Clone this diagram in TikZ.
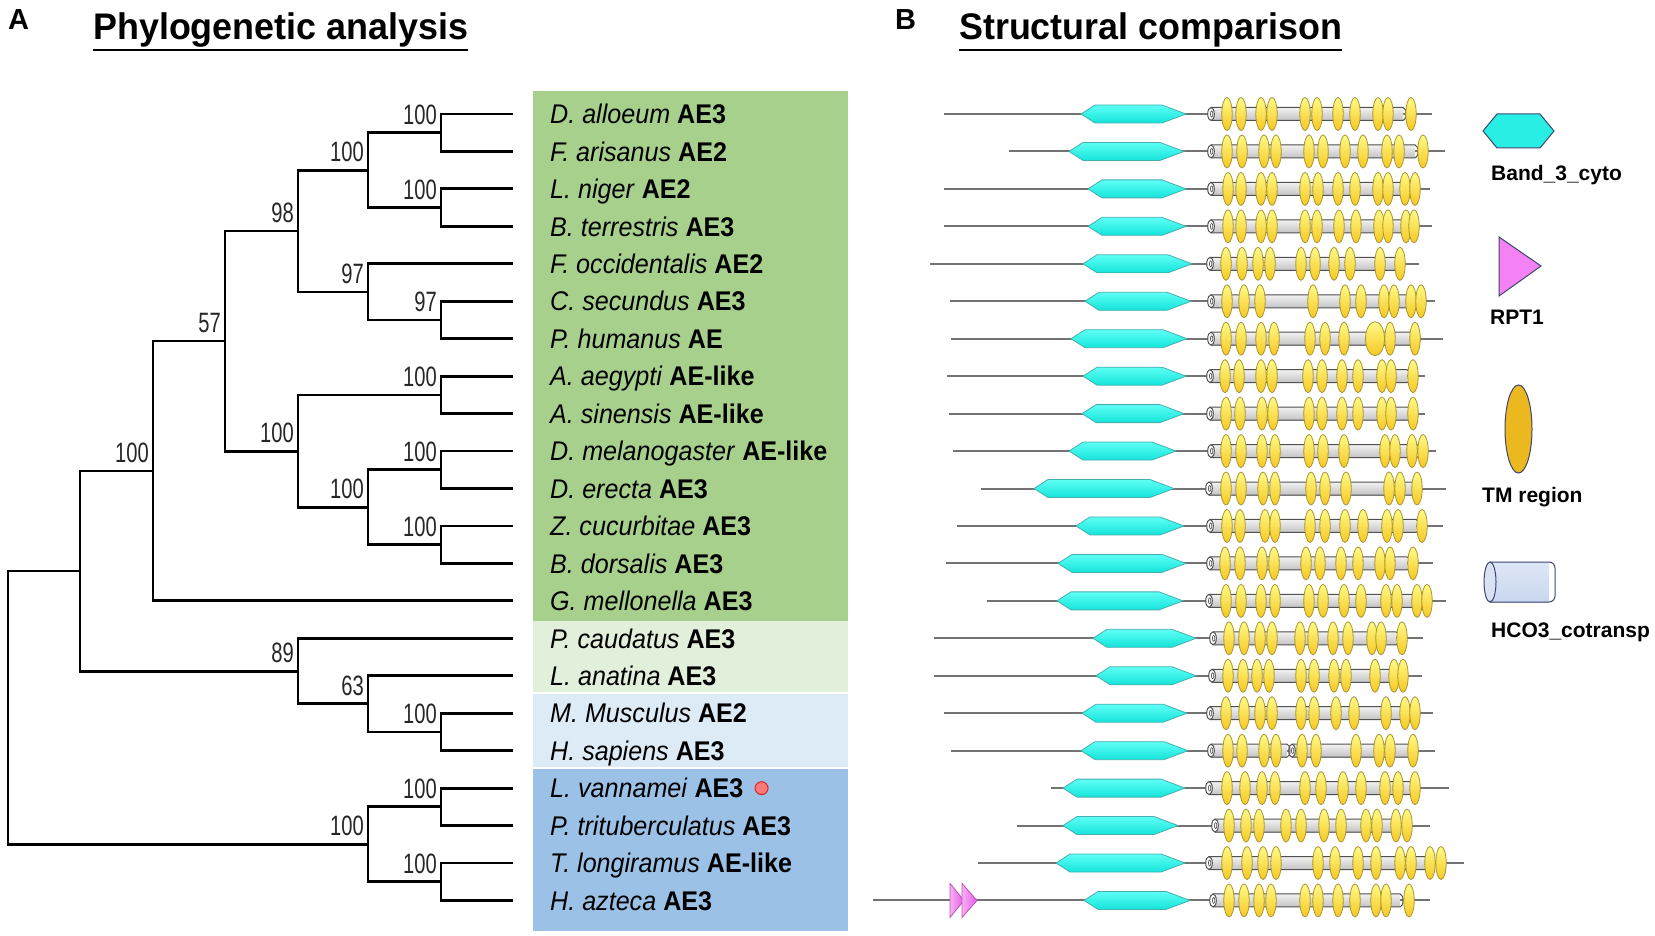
\documentclass[tikz,border=0pt]{standalone}
\usepackage{fontspec}
\setmainfont{Liberation Sans}
\newfontfamily\leaffont[FakeStretch=0.93]{Liberation Sans}
\newfontfamily\bootfont[FakeStretch=0.72]{Liberation Sans}
\newfontfamily\titlefont[FakeStretch=0.97]{Liberation Sans}
\usepackage{tikz}
\usetikzlibrary{calc}
\usetikzlibrary{positioning}

\definecolor{greenbox}{RGB}{168,208,141}
\definecolor{lightgreen}{RGB}{226,239,218}
\definecolor{lightblue}{RGB}{221,235,247}
\definecolor{bluebox}{RGB}{155,194,230}
\definecolor{linegrey}{RGB}{115,115,115}
\definecolor{hextop}{RGB}{95,255,245}
\definecolor{hexbot}{RGB}{20,228,218}
\definecolor{hexline}{RGB}{70,175,175}
\definecolor{tmtop}{RGB}{255,250,135}
\definecolor{tmbot}{RGB}{246,200,35}
\definecolor{tmline}{RGB}{170,150,50}
\definecolor{cyltop}{RGB}{242,242,242}
\definecolor{cylbot}{RGB}{195,195,195}
\definecolor{cylline}{RGB}{80,80,80}
\definecolor{rpttop}{RGB}{248,175,245}
\definecolor{rptbot}{RGB}{228,90,228}
\definecolor{rptline}{RGB}{185,85,185}
\definecolor{legcyan}{RGB}{40,238,228}
\definecolor{legpink}{RGB}{245,130,245}
\definecolor{leggold}{RGB}{236,184,32}
\definecolor{legcyl}{RGB}{200,214,238}
\definecolor{legline}{RGB}{60,70,110}
\definecolor{dotfill}{RGB}{250,120,120}
\definecolor{dotline}{RGB}{220,40,40}

\begin{document}
\begin{tikzpicture}[x=1pt, y=-1pt, line join=miter,
    branch/.style={line width=2.8, black},
    boot/.style={anchor=south east, inner sep=0, xshift=-4pt, yshift=8pt,
      font=\bootfont\fontsize{28}{28}\selectfont, text=black!85},
    leaf/.style={anchor=base west, inner sep=0, font=\leaffont\fontsize{27}{30}\selectfont},
    title/.style={anchor=base west, inner sep=0, font=\titlefont\bfseries\fontsize{37}{40}\selectfont},
    panel/.style={anchor=base west, inner sep=0, font=\bfseries\fontsize{29}{32}\selectfont},
    legtext/.style={anchor=base west, inner sep=0, font=\bfseries\fontsize{21}{24}\selectfont},
    backbone/.style={line width=2, draw=linegrey},
    band3/.style={draw=hexline, line width=0.8, top color=hextop, bottom color=hexbot},
    tm/.style={draw=tmline, line width=0.8, top color=tmtop, bottom color=tmbot},
    rpt/.style={draw=rptline, line width=0.8, left color=rpttop, right color=rptbot},
    reddot/.style={circle, minimum size=13pt, inner sep=0, fill=dotfill, draw=dotline, line width=1},
    hcocyl/.pic={
      \fill[top color=cyltop, bottom color=cylbot] (0,-6.5) rectangle (#1,6.5);
      \draw[cylline, line width=1] (0,-6.5) -- (#1,-6.5) arc (-90:90:3 and 6.5) -- (0,6.5);
      \draw[cylline, line width=1, fill=white] (0,0) ellipse (3.3 and 6.5);
      \draw[cylline, line width=0.6] (0.6,0) ellipse (1.2 and 3);
    }]
\useasboundingbox (0,0) rectangle (1655,936);

\node[panel] (pa) at (8,30) {A};
\node[panel] (pb) at (895,30) {B};
\node[title] (ta) at (93,40) {Phylogenetic analysis};
\node[title] (tb) at (959,40) {Structural comparison};
\draw[line width=2.5] ([yshift=-2pt]ta.south west) -- ([yshift=-2pt]ta.south east);
\draw[line width=2.5] ([yshift=-2pt]tb.south west) -- ([yshift=-2pt]tb.south east);

\fill[greenbox] (533,91) rectangle (848,621);
\fill[lightgreen] (533,621) rectangle (848,692);
\fill[lightblue] (533,694) rectangle (848,767);
\fill[bluebox] (533,769) rectangle (848,931);

\foreach \i in {1,...,22}
  \coordinate (l\i) at (513,{114+(\i-1)*37.45});
\coordinate (n12) at (441,132.7);
\coordinate (n34) at (441,207.6);
\coordinate (n1234) at (368,170.2);
\coordinate (n67) at (441,320.0);
\coordinate (n567) at (368,291.9);
\coordinate (n17) at (298,231.0);
\coordinate (n89) at (441,394.9);
\coordinate (n1011) at (441,469.8);
\coordinate (n1213) at (441,544.7);
\coordinate (n1013) at (368,507.2);
\coordinate (n813) at (298,451.1);
\coordinate (n113) at (225,341.0);
\coordinate (n114) at (153,470.9);
\coordinate (n1718) at (441,731.9);
\coordinate (n1618) at (368,703.8);
\coordinate (n1518) at (298,671.1);
\coordinate (n118) at (80,571.0);
\coordinate (n1920) at (441,806.8);
\coordinate (n2122) at (441,881.7);
\coordinate (n1922) at (368,844.3);
\coordinate (root) at (8,707.6);

\foreach \p/\c in {n12/l1, n12/l2, n34/l3, n34/l4, n1234/n12, n1234/n34,
    n67/l6, n67/l7, n567/l5, n567/n67, n17/n1234, n17/n567,
    n89/l8, n89/l9, n1011/l10, n1011/l11, n1213/l12, n1213/l13,
    n1013/n1011, n1013/n1213, n813/n89, n813/n1013, n113/n17, n113/n813,
    n114/n113, n114/l14, n1718/l17, n1718/l18, n1618/l16, n1618/n1718,
    n1518/l15, n1518/n1618, n118/n114, n118/n1518,
    n1920/l19, n1920/l20, n2122/l21, n2122/l22, n1922/n1920, n1922/n2122,
    root/n118, root/n1922}
  \draw[branch] (\p) |- (\c);

\foreach \n/\v in {n12/100, n34/100, n1234/100, n67/97, n567/97, n17/98,
    n89/100, n1011/100, n1213/100, n1013/100, n813/100, n113/57, n114/100,
    n1718/100, n1618/63, n1518/89, n1920/100, n2122/100, n1922/100}
  \node[boot] (b\n) at (\n) {\v};

\foreach \i/\spname/\gname in {1/D. alloeum/AE3, 2/F. arisanus/AE2, 3/L. niger/AE2,
    4/B. terrestris/AE3, 5/F. occidentalis/AE2, 6/C. secundus/AE3, 7/P. humanus/AE,
    8/A. aegypti/AE-like, 9/A. sinensis/AE-like, 10/D. melanogaster/AE-like,
    11/D. erecta/AE3, 12/Z. cucurbitae/AE3, 13/B. dorsalis/AE3, 14/G. mellonella/AE3,
    15/P. caudatus/AE3, 16/L. anatina/AE3, 17/M. Musculus/AE2, 18/H. sapiens/AE3,
    19/L. vannamei/AE3, 20/P. trituberculatus/AE3, 21/T. longiramus/AE-like,
    22/H. azteca/AE3}
  \node[leaf] (t\i) at (550,{114+(\i-1)*37.45+9.7}) {\textit{\spname} \textbf{\gname}};
\node[reddot, right=11pt of t19] (dot) {};

\foreach \rw/\xa/\ha/\hb/\ca/\cb/\xb/\tml in {
    1/944/1081/1186/1211/1403/1432/{1227,1241,1261,1272,1305,1317,1338,1355,1378,1388,1411},
    2/1009/1069/1184/1211/1415/1445/{1227,1242,1264,1276,1309,1323,1345,1363,1387,1399,1423},
    3/944/1088/1186/1211/1405/1430/{1228,1241,1261,1272,1305,1318,1338,1355,1378,1388,1405,1415},
    4/944/1088/1186/1211/1406/1432/{1228,1241,1261,1272,1305,1317,1339,1356,1379,1388,1406,1414},
    5/930/1083/1192/1210/1395/1419/{1226,1242,1258,1270,1301,1315,1334,1350,1380,1400},
    6/950/1085/1191/1211/1416/1435/{1227,1244,1260,1313,1345,1361,1384,1394,1411,1421},
    7/951/1071/1187/1211/1417/1443/{1226,1241,1261,1274,1310,1325,1344,1390,1415},
    8/947/1083/1186/1210/1407/1425/{1225,1239,1261,1272,1308,1322,1342,1358,1382,1391,1413},
    9/949/1082/1184/1210/1408/1425/{1226,1240,1262,1273,1309,1322,1342,1358,1382,1391,1413},
    10/953/1069/1176/1211/1417/1436/{1226,1241,1262,1275,1309,1323,1344,1385,1395,1412,1423},
    11/981/1034/1174/1209/1416/1446/{1226,1241,1263,1275,1311,1325,1346,1389,1400,1417},
    12/957/1076/1184/1210/1416/1443/{1227,1240,1265,1275,1310,1325,1345,1363,1387,1398,1422},
    13/946/1058/1186/1210/1407/1433/{1225,1240,1262,1274,1306,1320,1341,1358,1380,1390,1413},
    14/987/1057/1183/1209/1423/1446/{1226,1241,1261,1275,1309,1323,1344,1361,1386,1397,1417,1427},
    15/934/1093/1196/1213/1396/1423/{1229,1244,1260,1272,1300,1313,1333,1348,1372,1381,1402},
    16/934/1096/1196/1212/1401/1422/{1228,1243,1257,1269,1301,1314,1334,1346,1375,1394,1403},
    17/944/1082/1187/1210/1410/1433/{1226,1244,1260,1272,1301,1314,1336,1354,1386,1405,1415},
    18/951/1081/1188/1211/1287/1435/{1228,1242,1264,1276,1302,1316,1356,1379,1390,1413},
    19/1051/1063/1185/1209/1411/1449/{1227,1245,1262,1275,1305,1321,1343,1361,1385,1398,1415},
    20/1017/1063/1178/1215/1396/1430/{1229,1246,1259,1286,1301,1324,1341,1366,1377,1396,1407},
    21/978/1056/1185/1209/1426/1464/{1227,1247,1263,1276,1318,1335,1358,1376,1400,1411,1430,1441},
    22/873/1084/1190/1213/1400/1430/{1229,1244,1259,1271,1305,1318,1338,1355,1376,1386,1409}}{
  \pgfmathsetmacro\yy{114+(\rw-1)*37.45}
  \pgfmathsetmacro\cl{\cb-\ca}
  \draw[backbone] (\xa,\yy) -- (\xb,\yy);
  \draw[band3] (\ha,\yy) -- ({\ha+14},{\yy-9}) -- ({\hb-24},{\yy-9}) -- (\hb,\yy)
    -- ({\hb-24},{\yy+9}) -- ({\ha+14},{\yy+9}) -- cycle;
  \ifnum\rw=18 \pic at (1292,\yy) {hcocyl=116}; \fi
  \pic at (\ca,\yy) {hcocyl=\cl};
  \foreach \e in \tml
    \draw[tm] (\e,\yy) ellipse (5.2 and 16.5);
  \ifnum\rw=7 \draw[tm] (1375,\yy) ellipse (9.5 and 17); \fi
  \ifnum\rw=22
    \draw[rpt] (950,{\yy-17}) -- (964,\yy) -- (950,{\yy+17}) -- cycle;
    \draw[rpt] (962,{\yy-17}) -- (977,\yy) -- (962,{\yy+17}) -- cycle;
  \fi
}

\draw[fill=legcyan, draw=legline, line width=1] (1483,131) -- (1497,114) -- (1540,114)
  -- (1554,131) -- (1540,148) -- (1497,148) -- cycle;
\node[legtext] (lg1) at (1491,181) {Band\_3\_cyto};
\draw[fill=legpink, draw=legline, line width=1] (1499,237) -- (1541,266) -- (1499,296) -- cycle;
\node[legtext] (lg2) at (1490,324) {RPT1};
\draw[fill=leggold, draw=legline, line width=1] (1518.5,429) ellipse (13.5 and 44);
\node[legtext] (lg3) at (1482,502) {TM region};
\fill[top color=legcyl!60!white, bottom color=legcyl] (1490,562) rectangle (1549,602);
\draw[legline, line width=1] (1490,562) -- (1549,562) arc (-90:0:6 and 6) -- (1555,596)
  arc (0:90:6 and 6) -- (1490,602);
\draw[legline, line width=1, fill=legcyl!70!white] (1490,582) ellipse (6 and 20);
\node[legtext] (lg4) at (1491,637) {HCO3\_cotransp};
\end{tikzpicture}
\end{document}
